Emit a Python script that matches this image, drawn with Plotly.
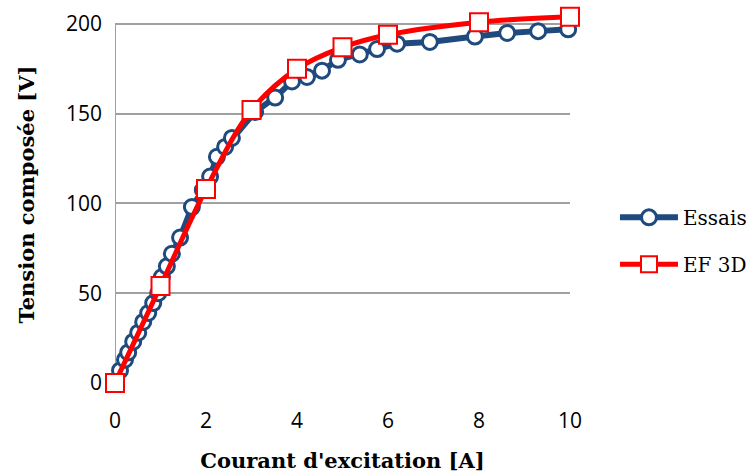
import plotly.graph_objects as go

# Essais (measured points)
essais_i = [0, 0.11, 0.22, 0.29, 0.40, 0.51, 0.62, 0.73, 0.84, 0.95, 1.03, 1.14, 1.25, 1.43,
            1.69, 1.93, 2.09, 2.24, 2.42, 2.57, 3.08, 3.52, 3.89, 4.22, 4.55, 4.90, 5.38,
            5.76, 6.20, 6.92, 7.91, 8.62, 9.30, 9.96]
essais_v = [0, 7, 13, 17, 23, 28, 34, 39, 44.5, 50, 59, 65, 72, 81,
            98, 107.5, 115, 126, 131.5, 136.5, 151, 159, 168, 170.5, 174, 180, 183,
            186, 189, 190, 193, 195, 196, 197]

# EF 3D (simulation)
ef_i = [0, 1, 2, 3, 4, 5, 6, 8, 10]
ef_v = [0, 54, 108, 152, 175, 187, 194, 201, 204]

y_ticks = [0, 50, 100, 150, 200]
x_ticks = [0, 2, 4, 6, 8, 10]

fig = go.Figure()
fig.add_trace(go.Scatter(
    x=essais_i, y=essais_v, name="Essais", mode="lines+markers", legendgroup="a",
    line=dict(color="#1F4A7E", width=6),
    marker=dict(symbol="circle", size=15, color="white",
                line=dict(color="#1F4A7E", width=3)),
    cliponaxis=False))
fig.add_trace(go.Scatter(
    x=ef_i, y=ef_v, name="EF 3D", mode="lines+markers", legendgroup="b",
    line=dict(color="#FF0000", width=5, shape="spline", smoothing=1.0),
    marker=dict(symbol="square", size=18, color="white",
                line=dict(color="#FF0000", width=2)),
    cliponaxis=False))

fig.update_layout(
    width=753, height=474,
    margin=dict(l=115, r=183, t=6, b=91, autoexpand=False),
    plot_bgcolor="white", paper_bgcolor="white",
    font=dict(family="Open Sans", color="black"),
    legend=dict(xref="container", x=0.8167, y=0.377, xanchor="left", yanchor="middle",
                font=dict(family="DejaVu Serif", size=20, color="black"),
                tracegroupgap=18, itemwidth=58),
    showlegend=True,
)
fig.update_xaxes(
    range=[0, 10], tickvals=x_ticks, showgrid=False, zeroline=False,
    showline=False, ticks="", tickfont=dict(size=21, family="Open Sans"),
    ticklabelstandoff=23,
    title=dict(text="<b>Courant d'excitation [A]</b>", standoff=20,
               font=dict(family="DejaVu Serif", size=21)))
fig.update_yaxes(
    range=[0, 210], tickvals=y_ticks, showgrid=True,
    gridcolor="#A0A0A0", gridwidth=2, zeroline=False,
    showline=False, ticks="",
    tickfont=dict(size=21, family="Open Sans"), ticklabelstandoff=12,
    title=dict(text="<b>Tension composée [V]</b>", standoff=25,
               font=dict(family="DejaVu Serif", size=21)))
# vertical axis line stops at the 200 gridline, like the original
fig.add_shape(type="line", xref="x", yref="y", x0=0, x1=0, y0=0, y1=200,
              line=dict(color="#A0A0A0", width=2), layer="below")

fig.write_html("out.html", config={"displayModeBar": False},
               post_script="document.body.style.margin='0';")
